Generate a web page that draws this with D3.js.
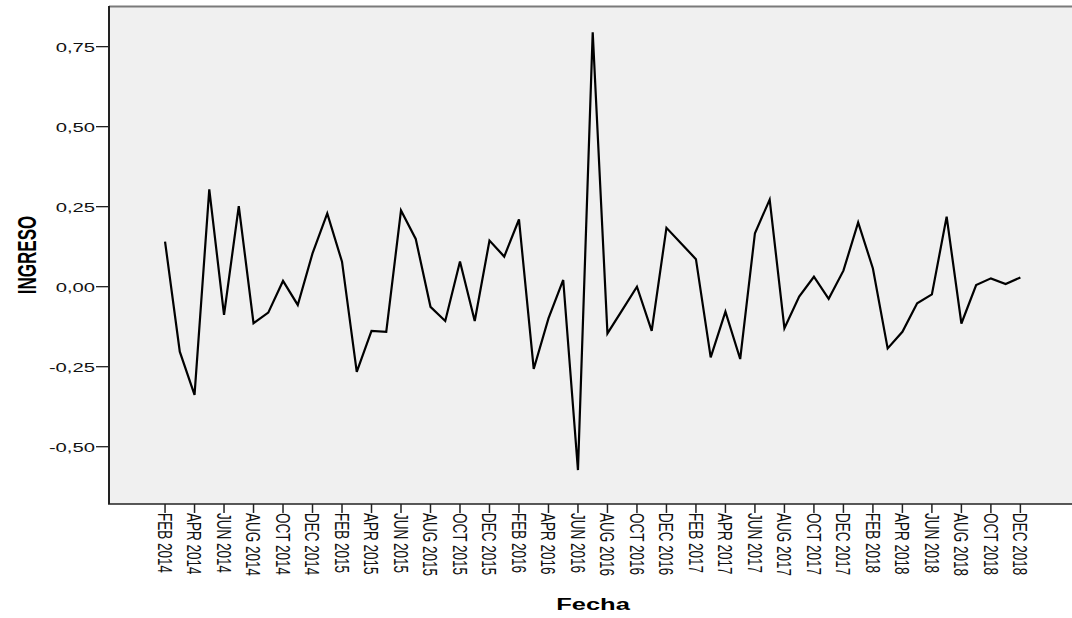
<!DOCTYPE html>
<html>
<head>
<meta charset="utf-8">
<script src="https://cdn.jsdelivr.net/npm/d3@7.9.0/dist/d3.min.js"></script>
<style>
  html, body { margin: 0; padding: 0; background: #fff; }
  svg { display: block; font-family: "Liberation Sans", Arial, sans-serif; }
</style>
</head>
<body>
<svg id="chart" width="1072" height="618"></svg>
<script>
// monthly values, FEB 2014 .. DEC 2018
const ingreso = [
  0.141, -0.203, -0.338, 0.304, -0.088, 0.252, -0.114, -0.081, 0.018, -0.057,
  0.104, 0.229, 0.078, -0.266, -0.138, -0.141, 0.238, 0.149, -0.063, -0.107,
  0.079, -0.107, 0.144, 0.094, 0.210, -0.257, -0.099, 0.021, -0.573, 0.795,
  -0.146, -0.073, 0.000, -0.138, 0.184, 0.135, 0.086, -0.221, -0.078, -0.226,
  0.167, 0.272, -0.130, -0.031, 0.031, -0.038, 0.050, 0.201, 0.057, -0.193,
  -0.141, -0.052, -0.024, 0.219, -0.115, 0.005, 0.026, 0.008, 0.029
];

// one label every two months
const tickLabels = [
  'FEB 2014', 'APR 2014', 'JUN 2014', 'AUG 2014', 'OCT 2014', 'DEC 2014',
  'FEB 2015', 'APR 2015', 'JUN 2015', 'AUG 2015', 'OCT 2015', 'DEC 2015',
  'FEB 2016', 'APR 2016', 'JUN 2016', 'AUG 2016', 'OCT 2016', 'DEC 2016',
  'FEB 2017', 'APR 2017', 'JUN 2017', 'AUG 2017', 'OCT 2017', 'DEC 2017',
  'FEB 2018', 'APR 2018', 'JUN 2018', 'AUG 2018', 'OCT 2018', 'DEC 2018'
];

const yTicks = [-0.5, -0.25, 0, 0.25, 0.5, 0.75];

const plotL = 109, plotR = 1072, plotT = 6, plotB = 504;
const stretch = 1.5; // the original picture is widened sideways

const svg = d3.select('#chart');

let x = d3.scaleLinear().domain([-3.8, 61.5]).range([plotL, plotR]);
let y = d3.scaleLinear().domain([-0.679, 0.877]).range([plotB, plotT]);

const es = d3.formatLocale({ decimal: ',', thousands: '.', grouping: [3], currency: ['', '€'], minus: '-' });
const fmt = es.format('.2f');

// plot background
svg.append('rect')
  .attr('x', plotL).attr('y', plotT)
  .attr('width', plotR - plotL).attr('height', plotB - plotT)
  .attr('fill', '#f0f0f0');

svg.append('line')
  .attr('x1', plotL).attr('x2', plotR)
  .attr('y1', plotT + 0.5).attr('y2', plotT + 0.5)
  .attr('stroke', '#7a7a7a').attr('stroke-width', 2);

// y axis
svg.append('line')
  .attr('x1', plotL).attr('x2', plotL)
  .attr('y1', plotT).attr('y2', plotB)
  .attr('stroke', '#222').attr('stroke-width', 2);

yTicks.forEach((v) => {
  svg.append('line')
    .attr('x1', plotL - 13).attr('x2', plotL)
    .attr('y1', y(v)).attr('y2', y(v))
    .attr('stroke', '#222').attr('stroke-width', 1.3);
  svg.append('text')
    .attr('transform', `translate(${plotL - 14},${y(v)}) scale(${stretch},1)`)
    .attr('text-anchor', 'end')
    .attr('dy', '0.36em')
    .attr('font-size', 13.5)
    .attr('fill', '#111')
    .text(fmt(v));
});

// x axis
svg.append('line')
  .attr('x1', plotL - 1).attr('x2', plotR)
  .attr('y1', plotB).attr('y2', plotB)
  .attr('stroke', '#222').attr('stroke-width', 1.5);

tickLabels.forEach((lab, i) => {
  const xi = x(i * 2);
  svg.append('line')
    .attr('x1', xi).attr('x2', xi)
    .attr('y1', plotB).attr('y2', plotB + 9)
    .attr('stroke', '#222').attr('stroke-width', 1.5);
  svg.append('text')
    .attr('transform', `translate(${xi},${plotB + 9}) scale(${stretch},1) rotate(90)`)
    .attr('text-anchor', 'start')
    .attr('dy', '0.36em')
    .attr('font-size', 13.5)
    .attr('fill', '#111')
    .text(lab);
});

// series line
let line = d3.line()
  .x((d, i) => x(i))
  .y((d) => y(d));

svg.append('path')
  .datum(ingreso)
  .attr('d', line)
  .attr('fill', 'none')
  .attr('stroke', '#000')
  .attr('stroke-width', 2.2)
  .attr('stroke-linejoin', 'miter');

// axis titles
svg.append('text')
  .attr('transform', `translate(36,255) scale(${stretch},1) rotate(-90)`)
  .attr('text-anchor', 'middle')
  .attr('font-size', 17)
  .attr('font-weight', 'bold')
  .attr('fill', '#000')
  .text('INGRESO');

svg.append('text')
  .attr('transform', `translate(593,610) scale(${stretch},1)`)
  .attr('text-anchor', 'middle')
  .attr('font-size', 17)
  .attr('font-weight', 'bold')
  .attr('fill', '#000')
  .text('Fecha');
</script>
</body>
</html>
